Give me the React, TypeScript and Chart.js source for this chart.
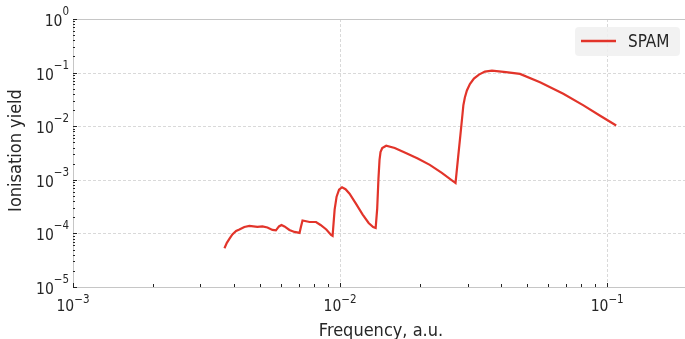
import React, { useEffect, useRef } from 'react';
import { Chart, registerables } from 'chart.js';

Chart.register(...registerables);

const FREQ = [0.00369, 0.003767, 0.00385, 0.003951, 0.00408, 0.004197, 0.00438, 0.004575, 0.004902, 0.00512, 0.005346, 0.005581, 0.005752, 0.005904, 0.006033, 0.00619, 0.00646, 0.006749, 0.00705, 0.00714, 0.007233, 0.007391, 0.007685, 0.008127, 0.008449, 0.00888, 0.009252, 0.009374, 0.00954, 0.009703, 0.009912, 0.01017, 0.01048, 0.01085, 0.01143, 0.01215, 0.01279, 0.0133, 0.01359, 0.01377, 0.01392, 0.01405, 0.01417, 0.01438, 0.01488, 0.01602, 0.01771, 0.01953, 0.02167, 0.02404, 0.02705, 0.0276, 0.02821, 0.0287, 0.02894, 0.02932, 0.02984, 0.03062, 0.0317, 0.03311, 0.03485, 0.03703, 0.04178, 0.04715, 0.05605, 0.0685, 0.0815, 0.09412, 0.1081];
const YIELD = [5.3e-5, 6.67e-5, 7.91e-5, 9.58e-5, 1.112e-4, 1.186e-4, 1.319e-4, 1.377e-4, 1.319e-4, 1.348e-4, 1.292e-4, 1.161e-4, 1.136e-4, 1.348e-4, 1.437e-4, 1.348e-4, 1.161e-4, 1.066e-4, 1.021e-4, 1.348e-4, 1.741e-4, 1.703e-4, 1.633e-4, 1.633e-4, 1.437e-4, 1.186e-4, 9.38e-5, 8.99e-5, 2.78e-4, 4.84e-4, 6.53e-4, 7.26e-4, 6.67e-4, 5.51e-4, 3.67e-4, 2.25e-4, 1.565e-4, 1.319e-4, 1.264e-4, 2.9e-4, 1.044e-3, 2.35e-3, 3.3e-3, 3.91e-3, 4.32e-3, 3.91e-3, 3.12e-3, 2.5e-3, 1.9e-3, 1.349e-3, 8.69e-4, 2.35e-3, 6.81e-3, 0.016, 0.0245, 0.0344, 0.0464, 0.0612, 0.0774, 0.0918, 0.1044, 0.1089, 0.1021, 0.0946, 0.0661, 0.0403, 0.0245, 0.01565, 0.0103];

const X_TICK_EXPONENTS = [-3, -2, -1];
const Y_TICK_EXPONENTS = [0, -1, -2, -3, -4, -5];
const X_MIN = 0.001;
const X_MAX = 0.1956;
const Y_MIN = 1e-5;
const Y_MAX = 1;
const SERIES_LABEL = 'SPAM';
const X_TITLE = 'Frequency, a.u.';
const Y_TITLE = 'Ionisation yield';

const FONT = '"DejaVu Sans Condensed", "DejaVu Sans", sans-serif';
const RED = '#e2342a';
const TEXT = '#262626';

const expText = (e: number) => (e < 0 ? '\u2212' + Math.abs(e) : String(e));

const decor = {
  id: 'decor',
  beforeDatasetsDraw(chart: any) {
    const { ctx, chartArea: a, scales } = chart;
    const x = scales.x, y = scales.y;
    ctx.save();
    ctx.strokeStyle = '#d9d9d9';
    ctx.lineWidth = 1;
    ctx.setLineDash([3, 2]);
    for (const e of X_TICK_EXPONENTS) {
      const px = Math.round(x.getPixelForValue(Math.pow(10, e))) + 0.5;
      ctx.beginPath();
      ctx.moveTo(px, a.top);
      ctx.lineTo(px, a.bottom);
      ctx.stroke();
    }
    for (const e of Y_TICK_EXPONENTS) {
      const py = Math.round(y.getPixelForValue(Math.pow(10, e))) + 0.5;
      ctx.beginPath();
      ctx.moveTo(a.left, py);
      ctx.lineTo(a.right, py);
      ctx.stroke();
    }
    ctx.restore();
  },
  afterDraw(chart: any) {
    const { ctx, chartArea: a, scales } = chart;
    const x = scales.x, y = scales.y;
    ctx.save();
    // frame
    ctx.strokeStyle = '#c6c6c6';
    ctx.lineWidth = 1;
    ctx.beginPath();
    ctx.moveTo(a.right, a.top + 0.5);
    ctx.lineTo(a.left + 0.5, a.top + 0.5);
    ctx.lineTo(a.left + 0.5, a.bottom + 0.5);
    ctx.lineTo(a.right, a.bottom + 0.5);
    ctx.stroke();

    // ticks
    ctx.strokeStyle = '#222';
    for (let k = -3; k <= 0; k++) {
      for (let m = 1; m <= 9; m++) {
        const v = m * Math.pow(10, k);
        if (v >= X_MIN && v <= X_MAX) {
          const px = Math.round(x.getPixelForValue(v)) + 0.5;
          const len = m === 1 ? 4 : 3;
          ctx.beginPath();
          ctx.moveTo(px, a.bottom);
          ctx.lineTo(px, a.bottom - len);
          ctx.stroke();
        }
      }
    }
    for (let k = -5; k <= 0; k++) {
      for (let m = 1; m <= 9; m++) {
        const v = m * Math.pow(10, k);
        if (v >= Y_MIN && v <= Y_MAX) {
          const py = Math.round(y.getPixelForValue(v)) + 0.5;
          const len = m === 1 ? 4 : 2;
          ctx.beginPath();
          ctx.moveTo(a.left, py);
          ctx.lineTo(a.left + len, py);
          ctx.stroke();
        }
      }
    }

    // tick labels
    const mainF = `15.5px ${FONT}`;
    const expF = `11.5px ${FONT}`;
    ctx.fillStyle = TEXT;
    ctx.textBaseline = 'alphabetic';
    ctx.textAlign = 'left';
    for (const e of Y_TICK_EXPONENTS) {
      const py = y.getPixelForValue(Math.pow(10, e));
      ctx.font = expF;
      const ew = ctx.measureText(expText(e)).width;
      ctx.font = mainF;
      const mw = ctx.measureText('10').width;
      const right = a.left - 4;
      ctx.fillText('10', right - ew - mw, py + 7);
      ctx.font = expF;
      ctx.fillText(expText(e), right - ew, py - 4);
    }
    for (const e of X_TICK_EXPONENTS) {
      const px = x.getPixelForValue(Math.pow(10, e));
      ctx.font = expF;
      const ew = ctx.measureText(expText(e)).width;
      ctx.font = mainF;
      const mw = ctx.measureText('10').width;
      const start = px - (mw + ew) / 2;
      ctx.fillText('10', start, a.bottom + 24);
      ctx.font = expF;
      ctx.fillText(expText(e), start + mw, a.bottom + 15.5);
    }

    // axis titles
    ctx.font = `18px ${FONT}`;
    ctx.textAlign = 'center';
    ctx.fillText(X_TITLE, (a.left + a.right) / 2 + 2, 335.5);
    ctx.save();
    ctx.translate(21, (a.top + a.bottom) / 2 - 2.5);
    ctx.rotate(-Math.PI / 2);
    ctx.fillText(Y_TITLE, 0, 0);
    ctx.restore();

    // legend
    const bx = 575, by = 27, bw = 105, bh = 29, r = 4;
    ctx.fillStyle = 'rgba(240,240,240,0.85)';
    ctx.beginPath();
    ctx.moveTo(bx + r, by);
    ctx.lineTo(bx + bw - r, by);
    ctx.quadraticCurveTo(bx + bw, by, bx + bw, by + r);
    ctx.lineTo(bx + bw, by + bh - r);
    ctx.quadraticCurveTo(bx + bw, by + bh, bx + bw - r, by + bh);
    ctx.lineTo(bx + r, by + bh);
    ctx.quadraticCurveTo(bx, by + bh, bx, by + bh - r);
    ctx.lineTo(bx, by + r);
    ctx.quadraticCurveTo(bx, by, bx + r, by);
    ctx.closePath();
    ctx.fill();
    ctx.strokeStyle = RED;
    ctx.lineWidth = 2.5;
    ctx.beginPath();
    ctx.moveTo(581, 41);
    ctx.lineTo(616, 41);
    ctx.stroke();
    ctx.fillStyle = TEXT;
    ctx.font = `17px ${FONT}`;
    ctx.textAlign = 'left';
    ctx.fillText(SERIES_LABEL, 628, 47);
    ctx.restore();
  },
};

export default function App() {
  const ref = useRef<HTMLCanvasElement>(null);
  useEffect(() => {
    if (!ref.current) return;
    const chart = new Chart(ref.current, {
      type: 'line',
      data: {
        datasets: [
          {
            label: SERIES_LABEL,
            data: FREQ.map((f, i) => ({ x: f, y: YIELD[i] })),
            borderColor: RED,
            borderWidth: 2.2,
            pointRadius: 0,
            fill: false,
            tension: 0,
          },
        ],
      },
      options: {
        animation: false,
        responsive: false,
        maintainAspectRatio: false,
        devicePixelRatio: 1,
        layout: { padding: { top: 19, right: 0, bottom: 0, left: 0 } },
        plugins: { legend: { display: false }, tooltip: { enabled: false } },
        scales: {
          x: {
            type: 'logarithmic',
            position: 'bottom',
            min: X_MIN,
            max: X_MAX,
            ticks: { display: false },
            grid: { display: false },
            border: { display: false },
            afterFit: (s: any) => {
              s.height = 52;
            },
          },
          y: {
            type: 'logarithmic',
            position: 'left',
            min: Y_MIN,
            max: Y_MAX,
            ticks: { display: false },
            grid: { display: false },
            border: { display: false },
            afterFit: (s: any) => {
              s.width = 73;
            },
          },
        },
      },
      plugins: [decor],
    } as any);
    return () => chart.destroy();
  }, []);
  return (
    <div style={{ position: 'fixed', left: 0, top: 0, width: 685, height: 339, background: '#fff' }}>
      <canvas ref={ref} width={685} height={339} style={{ display: 'block' }} />
    </div>
  );
}
